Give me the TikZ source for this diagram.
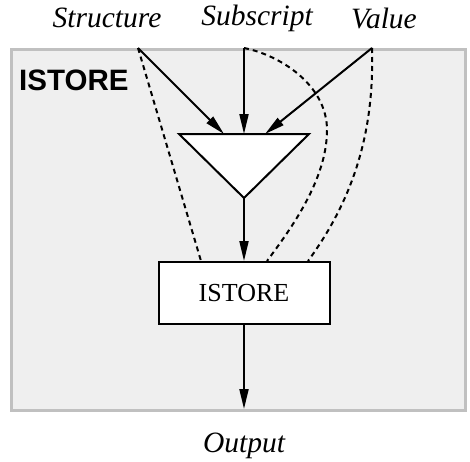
\documentclass[tikz,border=0pt]{standalone}
\usepackage{fontspec}
\setmainfont{Liberation Serif}
\setsansfont{Liberation Sans}
\usetikzlibrary{arrows.meta}
\definecolor{panel}{RGB}{239,239,239}
\definecolor{panelborder}{RGB}{192,192,192}
\tikzset{
  conn/.style={line width=2pt,-{Triangle[length=20pt,width=9pt]}},
  dep/.style={line width=2pt,dash pattern=on 5pt off 4pt},
  lbl/.style={font=\fontsize{29.5}{34}\selectfont\itshape,inner sep=0pt},
}
\begin{document}
\begin{tikzpicture}[x=1pt,y=-1pt]
\useasboundingbox (0,0) rectangle (470,461);
% panel
\node[draw=panelborder,fill=panel,line width=3pt,minimum width=454pt,minimum height=361pt,anchor=north west,inner sep=0pt] (panel) at (9.5,47.5) {};
\node[font=\sffamily\bfseries\fontsize{29.5}{34}\selectfont,anchor=west,inner sep=0pt] (title) at (19,80) {ISTORE};
% labels
\node[lbl] (lstruct) at (107,18) {Structure};
\node[lbl] (lsub) at (257,18) {Subscript};
\node[lbl] (lval) at (384,18) {Value};
\node[lbl] (lout) at (244,446) {Output};
% input points
\coordinate (sIn) at (138,48);
\coordinate (bIn) at (244,48);
\coordinate (vIn) at (372,48);
% triangle
\coordinate (tL) at (179,134);
\coordinate (tR) at (309,134);
\coordinate (tA) at (244,198);
\draw[line width=2pt,fill=white,line join=miter] (tL) -- (tR) -- (tA) -- cycle;
\coordinate (tinS) at (224,134);
\coordinate (tinB) at (244,134);
\coordinate (tinV) at (265,134);
% box
\node[draw,fill=white,line width=2pt,minimum width=171pt,minimum height=62pt,inner sep=0pt,font=\fontsize{26}{30}\selectfont] (box) at (244,293) {ISTORE};
\coordinate (outEnd) at (244,409);
\coordinate (bulge) at (327,130);
% dashed dependencies
\draw[dep] (sIn) -- ([xshift=-43pt]box.north);
\draw[dep] (bIn) .. controls (280,55) and (327,85) .. (bulge) .. controls (327,180) and (290,230) .. ([xshift=23pt]box.north);
\draw[dep] (vIn) .. controls (374,120) and (360,190) .. ([xshift=64pt]box.north);
% arrows
\draw[conn] (sIn) -- (tinS);
\draw[conn] (bIn) -- (tinB);
\draw[conn] (vIn) -- (tinV);
\draw[conn] (tA) -- (box.north);
\draw[conn] (box.south) -- (outEnd);
\end{tikzpicture}
\end{document}
